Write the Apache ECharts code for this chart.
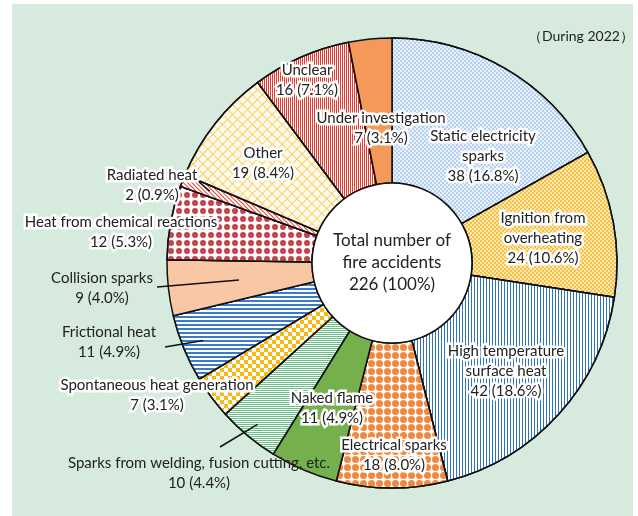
<!DOCTYPE html>
<html>
<head>
<meta charset="utf-8">
<script src="https://cdn.jsdelivr.net/npm/echarts@6/dist/echarts.min.js"></script>
<style>
html, body { margin: 0; padding: 0; background: #fff; }
#main { width: 638px; height: 516px; }
</style>
</head>
<body>
<div id="main"></div>
<script>
// causes of fire accidents, clockwise from 12 o'clock
var causes = [
    'Static electricity\nsparks',
    'Ignition from\noverheating',
    'High temperature\nsurface heat',
    'Electrical sparks',
    'Naked flame',
    'Sparks from welding, fusion cutting, etc.',
    'Spontaneous heat generation',
    'Frictional heat',
    'Collision sparks',
    'Heat from chemical reactions',
    'Radiated heat',
    'Other',
    'Unclear',
    'Under investigation'
];
var counts = [38, 24, 42, 18, 11, 10, 7, 11, 9, 12, 2, 19, 16, 7];
var shares = [16.8, 10.6, 18.6, 8.0, 4.9, 4.4, 3.1, 4.9, 4.0, 5.3, 0.9, 8.4, 7.1, 3.1];
var centerText = ['Total number of', 'fire accidents'];
var periodText = '（During 2022）';

var chart = echarts.init(document.getElementById('main'));

var cx = 392, cy = 263, rIn = 80, rOut = 225;
var font = 'Lato';

var total = 0;
for (var i = 0; i < counts.length; i++) total += counts[i];

// mid angle of each slice (deg, clockwise from top)
var midAngle = [];
var acc = 0;
for (var i = 0; i < counts.length; i++) {
    midAngle.push((acc + counts[i] / 2) / total * 360);
    acc += counts[i];
}

// patterns
function checker(color, s) {
    return { symbol: 'rect', symbolSize: 1, color: color,
        dashArrayX: [[s, s], [0, s, s, 0]], dashArrayY: [s, 0] };
}
function vLines(color, w, gap, rot) {
    return { symbol: 'rect', symbolSize: 1, color: color,
        dashArrayX: [w, gap], dashArrayY: [1, 0], rotation: rot || 0 };
}
function hLines(color, w, gap) {
    return { symbol: 'rect', symbolSize: 1, color: color,
        dashArrayX: [1, 0], dashArrayY: [w, gap] };
}
function dots(color, d, gap) {
    return { symbol: 'circle', symbolSize: 1, color: color,
        dashArrayX: [d, gap], dashArrayY: [d, gap] };
}
function lattice(color, p) {
    return { symbol: 'rect', symbolSize: 1, color: color,
        dashArrayX: [[p, 0], [1, p - 1]], dashArrayY: [1, 0, p - 1, 0], rotation: Math.PI / 4 };
}

var sliceStyle = [
    { color: '#b5d0f0', decal: checker('rgba(255,255,255,0.7)', 2) },
    { color: '#f7c244', decal: checker('rgba(255,255,255,0.6)', 2) },
    { color: '#ffffff', decal: vLines('#2f74c0', 1, 2) },
    { color: '#ffffff', decal: dots('#f2883d', 7, 1) },
    { color: '#74b04c' },
    { color: '#ffffff', decal: hLines('#6cbf88', 1, 1) },
    { color: '#ffffff', decal: checker('#f7b916', 4) },
    { color: '#ffffff', decal: hLines('#3a7cc6', 2, 2) },
    { color: '#f8c8a4' },
    { color: '#ffffff', decal: dots('#c6434e', 6, 2) },
    { color: '#ffffff', decal: vLines('#e8402f', 1, 2, -Math.PI / 4) },
    { color: '#fffbf0', decal: lattice('#f8d05e', 7) },
    { color: '#ffffff', decal: vLines('#e63b2e', 1, 1) },
    { color: '#f4995a' }
];

// label centres
var labelAt = [[483, 156], [543, 238], [506, 371], [394, 455], [332, 408], [199, 473], [157, 395],
    [109, 342], [102, 288], [121, 232], [152, 185], [263, 163], [307, 80], [381, 128]];
// leader lines: [radius of start inside slice, end x, end y]
var leaders = { 5: [210, 220, 447], 7: [204, 165, 347], 8: [154, 157, 287], 10: [196, 199, 182] };
var plainIdx = [5, 7, 8];

var pieData = [];
for (var i = 0; i < causes.length; i++) {
    pieData.push({ name: causes[i], value: counts[i], itemStyle: sliceStyle[i] });
}

var overlay = [];
for (var k in leaders) {
    var ld = leaders[k];
    var a = midAngle[k] * Math.PI / 180;
    overlay.push({
        type: 'polyline', z: 100, silent: true,
        shape: { points: [[cx + ld[0] * Math.sin(a), cy - ld[0] * Math.cos(a)], [ld[1], ld[2]]] },
        style: { stroke: '#111', lineWidth: 1.5, fill: null }
    });
}
// slice labels with white halo
for (var i = 0; i < causes.length; i++) {
    var halo = plainIdx.indexOf(i) < 0;
    var st = {
        text: causes[i] + '\n' + counts[i] + ' (' + shares[i].toFixed(1) + '%)',
        fontFamily: font, fontSize: 15, lineHeight: 20,
        fill: '#222',
        align: 'center', verticalAlign: 'middle'
    };
    if (halo) {
        st.stroke = '#ffffff';
        st.lineWidth = 5;
        st.shadowColor = '#ffffff';
        st.shadowBlur = 3;
    }
    overlay.push({ type: 'text', z: 110, silent: true, x: labelAt[i][0], y: labelAt[i][1], style: st });
}

var option = {
    graphic: [{
        type: 'rect', z: -10, silent: true,
        shape: { x: 12, y: 4, width: 621, height: 520 },
        style: { fill: '#d6eadd' }
    }].concat(overlay),
    title: {
        text: periodText,
        left: 523, top: 24,
        textStyle: { fontFamily: font, fontSize: 14, fontWeight: 'normal', color: '#222' }
    },
    series: [
        {
            type: 'pie',
            center: [cx, cy],
            radius: [rIn, rOut],
            startAngle: 90,
            clockwise: true,
            silent: true,
            itemStyle: { borderColor: '#111', borderWidth: 1.5 },
            label: { show: false },
            labelLine: { show: false },
            data: pieData
        },
        {
            type: 'pie',
            center: [cx, cy],
            radius: [0, rIn],
            silent: true,
            itemStyle: { color: '#fff', borderColor: '#111', borderWidth: 1.5 },
            label: {
                show: true,
                position: 'center',
                fontFamily: font,
                fontSize: 17,
                lineHeight: 22,
                color: '#222',
                formatter: function () {
                    return centerText.join('\n') + '\n' + total + ' (100%)';
                }
            },
            labelLine: { show: false },
            data: [{ name: 'total', value: total }]
        }
    ]
};

chart.setOption(option);
</script>
</body>
</html>
